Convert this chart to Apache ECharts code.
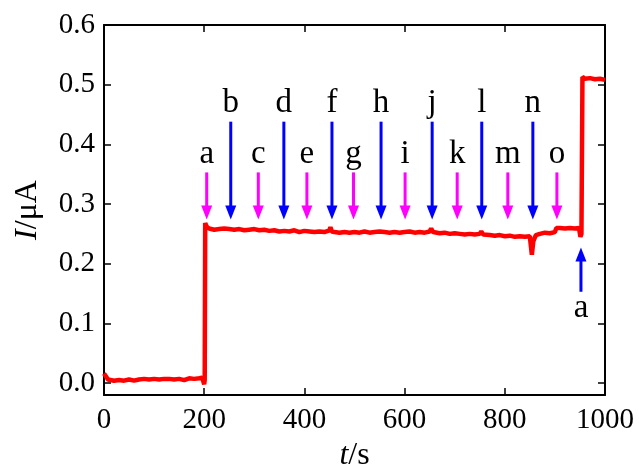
<!DOCTYPE html>
<html>
<head>
<meta charset="utf-8">
<script src="https://cdn.jsdelivr.net/npm/echarts@6/dist/echarts.min.js"></script>
<style>
html, body { margin: 0; padding: 0; background: #fff; }
#chart { width: 639px; height: 465px; }
</style>
</head>
<body>
<div id="chart"></div>
<script>
// current trace (t in s, I in uA)
var timeS = [0, 3, 8, 20, 30, 40, 50, 60, 70, 80, 90, 100, 110, 120, 130, 140, 150, 160, 170, 180, 190, 196, 200, 201,
  202, 205, 210, 220, 230, 240, 250, 260, 270, 280, 290, 300, 310, 320, 330, 340, 350, 360, 370, 380, 390, 400,
  410, 420, 430, 440, 450, 452, 455, 460, 470, 480, 490, 500, 510, 520, 530, 540, 550, 560, 570, 580, 590, 600,
  610, 620, 630, 640, 650, 653, 657, 670, 680, 690, 700, 710, 720, 730, 740, 750, 753, 757, 770, 780, 790, 800,
  810, 820, 830, 840, 850, 852, 854, 857, 862, 870, 880, 890, 900, 903, 910, 920, 930, 940, 948, 951, 953,
  955, 960, 970, 980, 990, 1000];
var currentUA = [0.016, 0.014, 0.006, 0.004, 0.005, 0.004, 0.006, 0.004, 0.006, 0.007, 0.006, 0.007, 0.006, 0.007, 0.007, 0.006, 0.007, 0.005, 0.008, 0.007, 0.008, 0.009, -0.002, 0.005,
  0.268, 0.262, 0.259, 0.257, 0.258, 0.259, 0.258, 0.257, 0.258, 0.256, 0.257, 0.258, 0.256, 0.257, 0.255, 0.256, 0.254, 0.255, 0.254, 0.256, 0.253, 0.255,
  0.254, 0.253, 0.254, 0.253, 0.256, 0.261, 0.254, 0.253, 0.252, 0.253, 0.252, 0.253, 0.252, 0.254, 0.252, 0.253, 0.254, 0.253, 0.252, 0.253, 0.252, 0.253,
  0.254, 0.252, 0.253, 0.252, 0.254, 0.259, 0.253, 0.251, 0.252, 0.250, 0.251, 0.250, 0.249, 0.250, 0.249, 0.250, 0.254, 0.249, 0.248, 0.247, 0.248, 0.246,
  0.247, 0.245, 0.246, 0.245, 0.246, 0.230, 0.215, 0.238, 0.248, 0.250, 0.252, 0.251, 0.253, 0.260, 0.260, 0.259, 0.260, 0.259, 0.260, 0.245, 0.250,
  0.513, 0.510, 0.511, 0.509, 0.510, 0.508];

// injection times
var pinkTimes = [205, 308, 405, 498, 601, 705, 806, 904];
var pinkNames = ['a', 'c', 'e', 'g', 'i', 'k', 'm', 'o'];
var blueTimes = [253, 359, 455, 553, 655, 754, 856];
var blueNames = ['b', 'd', 'f', 'h', 'j', 'l', 'n'];
var upTimes = [952];
var upNames = ['a'];

var yTicks = [0, 0.1, 0.2, 0.3, 0.4, 0.5, 0.6];

var FONT = 'Liberation Serif';

var chart = echarts.init(document.getElementById('chart'));

// arrow from yFrom to yTo (tip), letter at yText
function arrowRenderer(color, names, yFrom, yTo, yText) {
  return function (params, api) {
    var x = api.value(0);
    var p0 = api.coord([x, yFrom]);
    var p1 = api.coord([x, yTo]);
    var pt = api.coord([x, yText]);
    var dir = p1[1] > p0[1] ? 1 : -1;
    var headLen = 14, half = 5.5;
    return {
      type: 'group',
      children: [
        {
          type: 'line',
          shape: { x1: p0[0], y1: p0[1], x2: p1[0], y2: p1[1] - dir * (headLen - 2) },
          style: { stroke: color, lineWidth: 3 }
        },
        {
          type: 'polygon',
          shape: { points: [[p1[0] - half, p1[1] - dir * headLen], [p1[0] + half, p1[1] - dir * headLen], [p1[0], p1[1]]] },
          style: { fill: color }
        },
        {
          type: 'text',
          x: pt[0],
          y: pt[1],
          style: {
            text: names[params.dataIndex],
            fontFamily: FONT, fontSize: 33,
            fill: '#000',
            align: 'center', verticalAlign: 'middle'
          }
        }
      ]
    };
  };
}

function toPairs(xs, y) {
  return xs.map(function (x) { return [x, y]; });
}

var frameLine = { onZero: false, lineStyle: { color: '#000', width: 2 } };
var tickStyle = { color: '#000', width: 1.5 };

var option = {
  animation: false,
  grid: { left: 104, right: 34, top: 25, bottom: 70, outerBoundsMode: 'none' },
  xAxis: [
    {
      type: 'value', min: 0, max: 1000, interval: 200,
      axisLine: frameLine,
      axisTick: { inside: true, length: 7, lineStyle: tickStyle },
      axisLabel: {
        color: '#000', fontFamily: FONT, fontSize: 29, margin: 11,
        formatter: function (v) { return String(v); }
      },
      splitLine: { show: false },
      name: '{i|t}/s', nameLocation: 'middle', nameGap: 44,
      nameTextStyle: {
        color: '#000', fontFamily: FONT, fontSize: 32,
        rich: { i: { fontStyle: 'italic', fontFamily: FONT, fontSize: 32, color: '#000' } }
      }
    },
    {
      type: 'value', min: 0, max: 1000, interval: 200, position: 'top',
      axisLine: frameLine,
      axisTick: { inside: true, length: 7, lineStyle: tickStyle },
      axisLabel: { show: false }, splitLine: { show: false }
    }
  ],
  yAxis: [
    {
      type: 'value', min: -0.02, max: 0.6,
      axisLine: frameLine,
      axisTick: { inside: true, length: 7, customValues: yTicks, lineStyle: tickStyle },
      axisLabel: {
        color: '#000', fontFamily: FONT, fontSize: 29, margin: 9, customValues: yTicks,
        formatter: function (v) { return v.toFixed(1); }
      },
      splitLine: { show: false },
      name: '{i|I}/\u03bcA', nameLocation: 'middle', nameGap: 60, nameRotate: 90,
      nameTextStyle: {
        color: '#000', fontFamily: FONT, fontSize: 32,
        rich: { i: { fontStyle: 'italic', fontFamily: FONT, fontSize: 32, color: '#000' } }
      }
    },
    {
      type: 'value', min: -0.02, max: 0.6, position: 'right',
      axisLine: frameLine,
      axisTick: { inside: true, length: 7, customValues: yTicks, lineStyle: tickStyle },
      axisLabel: { show: false }, splitLine: { show: false }
    }
  ],
  series: [
    {
      type: 'custom', coordinateSystem: 'cartesian2d',
      renderItem: arrowRenderer('#ff00ff', pinkNames, 0.353, 0.274, 0.383),
      data: toPairs(pinkTimes, 0.274), z: 3
    },
    {
      type: 'custom', coordinateSystem: 'cartesian2d',
      renderItem: arrowRenderer('#0000ff', blueNames, 0.438, 0.274, 0.468),
      data: toPairs(blueTimes, 0.274), z: 3
    },
    {
      type: 'custom', coordinateSystem: 'cartesian2d',
      renderItem: arrowRenderer('#0000ff', upNames, 0.153, 0.227, 0.125),
      data: toPairs(upTimes, 0.227), z: 3
    },
    {
      type: 'line', showSymbol: false, z: 4,
      data: timeS.map(function (t, i) { return [t, currentUA[i]]; }),
      lineStyle: { color: '#ff0000', width: 4.5 },
      itemStyle: { color: '#ff0000' }
    }
  ]
};

chart.setOption(option);
// redraw once the serif face is surely available
if (document.fonts && document.fonts.load) {
  Promise.all([
    document.fonts.load('29px "Liberation Serif"'),
    document.fonts.load('italic 32px "Liberation Serif"')
  ]).then(function () {
    chart.clear();
    chart.setOption(option);
  });
}
</script>
</body>
</html>
